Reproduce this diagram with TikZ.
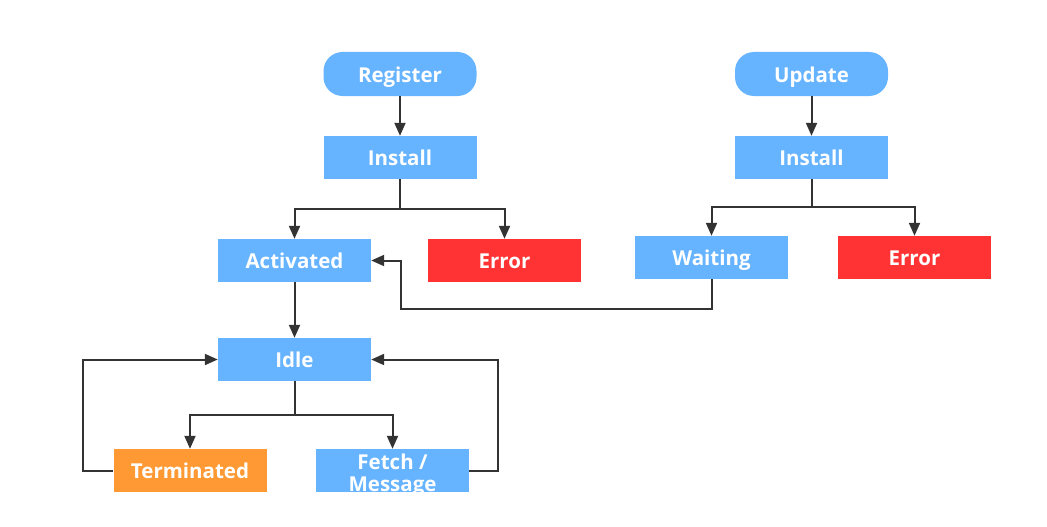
\documentclass[tikz,border=0pt]{standalone}
\usepackage{fontspec}
\setmainfont{Open Sans}
\usetikzlibrary{arrows.meta,calc}
\definecolor{boxblue}{HTML}{66B3FF}
\definecolor{boxred}{HTML}{FF3333}
\definecolor{boxorange}{HTML}{FF9933}
\definecolor{linegray}{HTML}{333333}
\tikzset{
  statebox/.style={draw=none,fill=boxblue,minimum width=153pt,minimum height=43pt,inner sep=0pt,
    text=white,text height=16pt,text depth=0pt,font=\fontsize{20.5}{22}\selectfont\bfseries},
  startbox/.style={statebox,rounded corners=19pt,minimum height=44pt},
  errbox/.style={statebox,fill=boxred},
  termbox/.style={statebox,fill=boxorange},
  labeltext/.style={inner sep=0pt,text=white,align=center,font=\fontsize{20.5}{22}\selectfont\bfseries},
  arr/.style={draw=linegray,line width=2pt,-{Triangle[length=13pt,width=11pt]}}
}
\begin{document}
\begin{tikzpicture}[x=1pt,y=-1pt]
\useasboundingbox (0,0) rectangle (1047,527);
\node[startbox] (reg) at (400,74) {Register};
\node[statebox] (inst1) at (400,157.5) {Install};
\node[statebox] (act) at (294.5,260.5) {Activated};
\node[errbox] (err1) at (504.5,260.5) {Error};
\node[statebox] (idle) at (294.5,359.5) {Idle};
\node[termbox] (term) at (190,470.5) {Terminated};
\node[statebox] (fetch) at (392.5,470.5) {};
\node[labeltext] (fetchtxt) at ([yshift=-5pt]fetch.center) {Fetch /\\Message};
\node[startbox] (upd) at (811.5,74) {Update};
\node[statebox] (inst2) at (811.5,157.5) {Install};
\node[statebox] (wait) at (711.5,257.5) {Waiting};
\node[errbox] (err2) at (914.5,257.5) {Error};

\draw[arr] (reg) -- (inst1);
\draw[arr] (inst1.south) -- ++(0,30) -| (act);
\draw[arr] (inst1.south) -- ++(0,30) -| (err1);
\draw[arr] (upd) -- (inst2);
\draw[arr] (inst2.south) -- ++(0,28) -| (wait);
\draw[arr] (inst2.south) -- ++(0,28) -| (err2);
\draw[arr] (wait.south) -- ++(0,30) -| ([xshift=30pt]act.east) -- (act.east);
\draw[arr] (act) -- (idle);
\draw[arr] (idle.south) -- ++(0,34) -| (term);
\draw[arr] (idle.south) -- ++(0,34) -| (fetch);
\draw[arr] (term.west) -- ++(-30,0) |- (idle.west);
\draw[arr] (fetch.east) -- ++(29,0) |- (idle.east);
\end{tikzpicture}
\end{document}
